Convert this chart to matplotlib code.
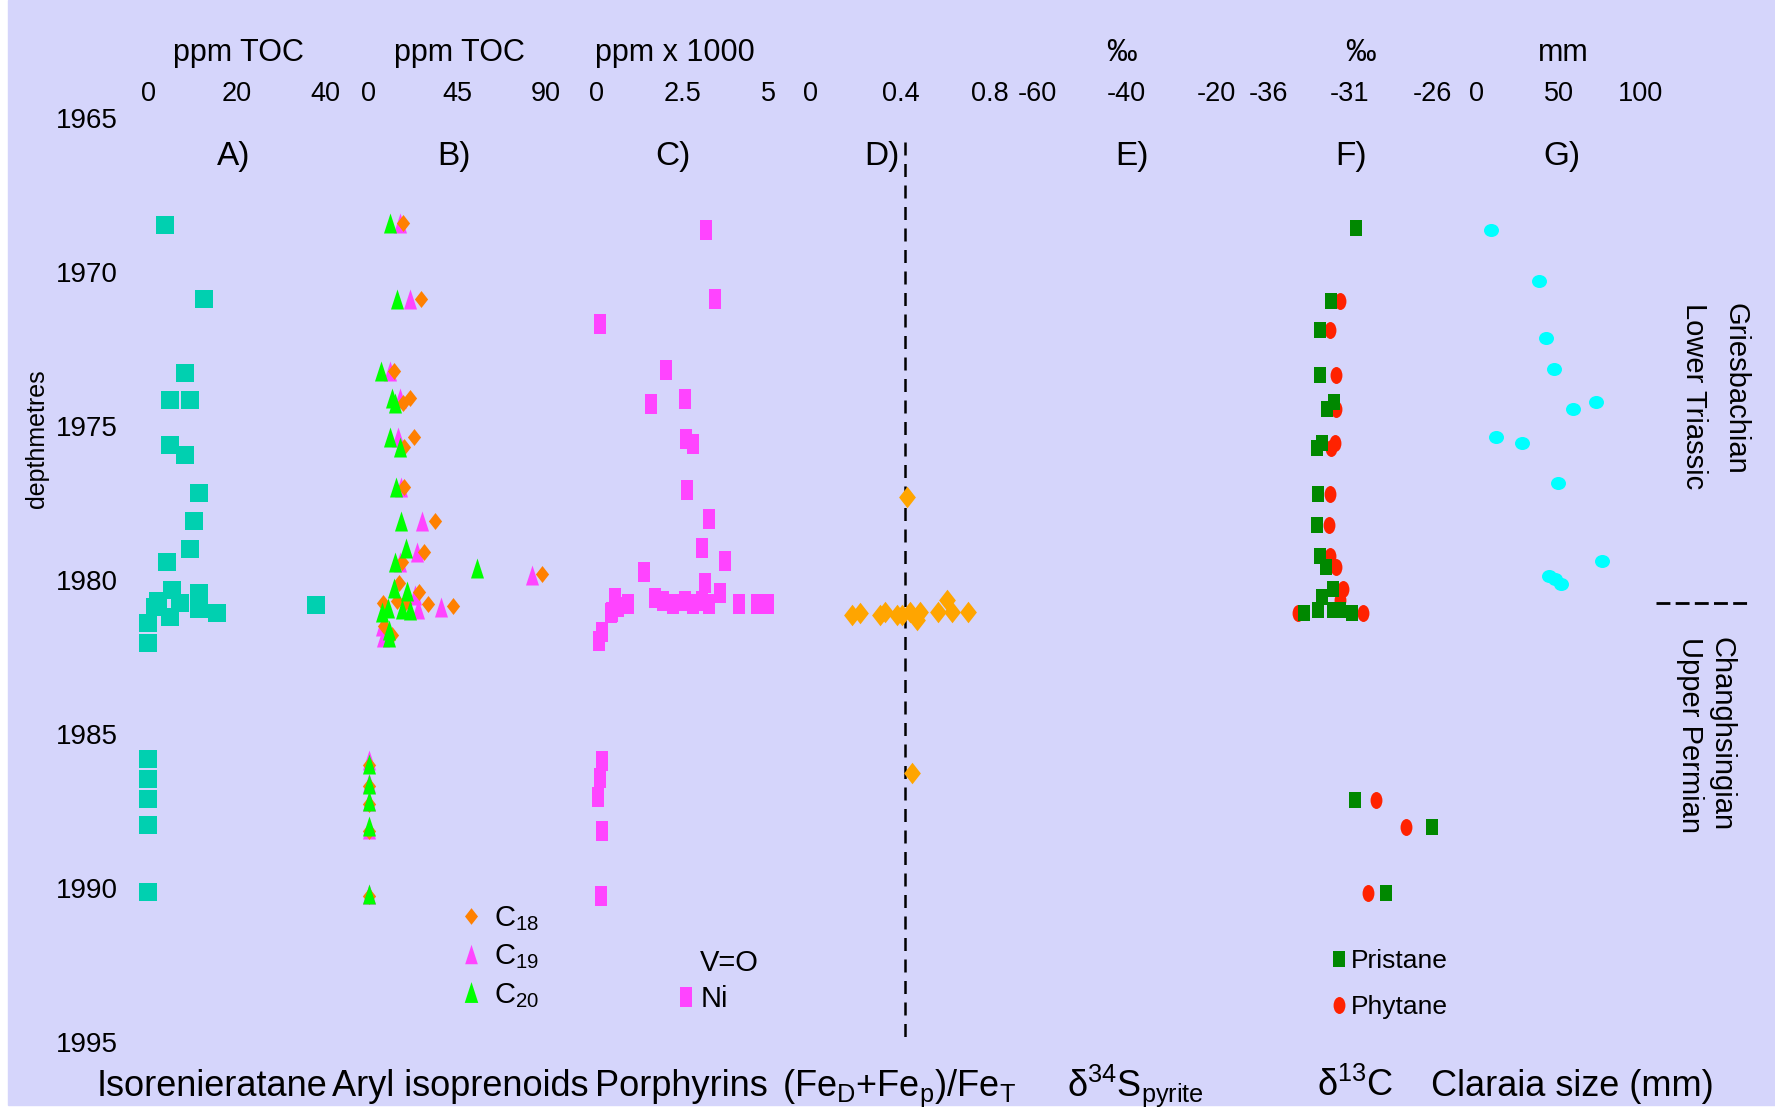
import numpy as np
import matplotlib.pyplot as plt
from matplotlib.lines import Line2D
from matplotlib.path import Path
from matplotlib.patches import Rectangle
from matplotlib.transforms import Affine2D

plt.rcParams['font.family'] = ['Liberation Sans', 'DejaVu Sans']
plt.rcParams['mathtext.fontset'] = 'custom'
plt.rcParams['mathtext.rm'] = 'Liberation Sans'
plt.rcParams['mathtext.it'] = 'Liberation Sans:italic'
plt.rcParams['axes.unicode_minus'] = False

# ---- data (depth in metres, value on each panel's own scale) ----
DEPTH_TICKS = [1965, 1970, 1975, 1980, 1985, 1990, 1995]

# A) Isorenieratane, ppm TOC
ISO_DEPTH = [1968.5, 1970.9, 1973.3, 1974.17, 1974.17, 1975.63, 1975.96, 1977.2, 1978.1, 1979.0,
             1979.43, 1980.35, 1980.45, 1980.7, 1980.75, 1980.83, 1980.9, 1980.97, 1981.07, 1981.2,
             1981.4, 1982.06, 1985.82, 1986.47, 1987.12, 1987.97, 1990.16]
ISO_VALUE = [3.8, 12.7, 8.4, 5.0, 9.5, 5.0, 8.4, 11.5, 10.4, 9.5,
             4.3, 5.4, 11.5, 2.3, 7.2, 38.0, 1.6, 11.5, 15.6, 5.0,
             0.0, 0.0, 0.0, 0.0, 0.0, 0.0, 0.0]

# B) Aryl isoprenoids, ppm TOC
C18_DEPTH = [1968.43, 1970.89, 1973.22, 1974.1, 1974.25, 1975.36, 1975.68, 1977.0, 1978.1, 1979.09,
             1979.42, 1979.82, 1980.12, 1980.39, 1980.71, 1980.77, 1980.77, 1980.79, 1980.85, 1981.5,
             1981.8, 1986.02, 1986.7, 1987.28, 1988.18, 1990.27]
C18_VALUE = [17.5, 26.6, 13.1, 21.2, 17.7, 23.3, 18.2, 18.4, 33.9, 28.2,
             17.0, 88.1, 15.8, 25.8, 14.5, 7.7, 18.7, 30.5, 42.8, 8.0,
             12.0, 0.3, 0.3, 0.3, 0.3, 0.3]
C19_DEPTH = [1968.43, 1970.89, 1973.22, 1974.1, 1975.36, 1977.0, 1978.1, 1979.09, 1979.42, 1979.85,
             1980.5, 1980.9, 1980.96, 1981.5, 1981.85, 1985.86, 1986.6, 1987.2, 1988.1, 1990.2]
C19_VALUE = [16.2, 21.2, 11.1, 16.2, 15.2, 16.7, 27.5, 24.9, 16.0, 82.8,
             23.8, 36.9, 25.4, 7.0, 7.4, 0.3, 0.3, 0.3, 0.3, 0.3]
C20_DEPTH = [1968.43, 1970.89, 1973.22, 1974.1, 1974.25, 1975.36, 1975.68, 1977.0, 1978.1, 1978.98,
             1979.42, 1979.63, 1980.28, 1980.36, 1980.93, 1980.96, 1980.98, 1981.04, 1981.63, 1981.85,
             1986.0, 1986.65, 1987.2, 1988.0, 1990.2]
C20_VALUE = [11.1, 14.7, 6.6, 12.1, 13.7, 11.1, 16.0, 14.2, 16.5, 19.2,
             13.7, 54.9, 13.3, 19.9, 10.3, 17.0, 21.2, 6.9, 10.8, 10.8,
             0.3, 0.3, 0.3, 0.3, 0.3]

# C) Porphyrins (Ni), ppm x 1000
NI_DEPTH = [1968.66, 1970.9, 1971.7, 1973.19, 1974.14, 1974.3, 1975.44, 1975.6, 1977.09, 1978.03,
            1978.98, 1979.4, 1979.76, 1980.1, 1980.45, 1980.6, 1980.6, 1980.71, 1980.71, 1980.71,
            1980.79, 1980.79, 1980.79, 1980.79, 1980.79, 1980.79, 1980.79, 1980.88, 1981.04, 1981.09,
            1981.71, 1981.99, 1985.9, 1986.45, 1987.05, 1988.15, 1990.26]
NI_VALUE = [3.20, 3.45, 0.11, 2.03, 2.59, 1.60, 2.61, 2.81, 2.65, 3.29,
            3.08, 3.76, 1.39, 3.17, 3.61, 0.54, 1.71, 1.95, 2.58, 3.07,
            0.91, 2.24, 2.82, 3.27, 4.16, 4.67, 5.01, 0.64, 0.44, 0.41,
            0.17, 0.08, 0.15, 0.10, 0.05, 0.15, 0.12]

# D) (FeD+Fep)/FeT
FE_DEPTH = [1977.32, 1981.15, 1981.09, 1981.15, 1981.04, 1981.15, 1981.15, 1981.04, 1981.31,
            1981.04, 1981.04, 1980.66, 1981.04, 1981.04, 1986.28]
FE_VALUE = [0.43, 0.182, 0.219, 0.308, 0.330, 0.383, 0.405, 0.442, 0.472,
            0.487, 0.568, 0.606, 0.628, 0.702, 0.453]
FE_THRESHOLD = 0.42

# F) d13C of pristane / phytane, permil
PRI_DEPTH = [1968.59, 1970.94, 1971.9, 1973.36, 1974.22, 1974.47, 1975.57, 1975.73, 1977.23, 1978.22,
             1979.22, 1979.58, 1980.31, 1980.55, 1980.98, 1981.07, 1980.98, 1980.98, 1981.07,
             1987.15, 1988.05, 1990.17]
PRI_VALUE = [-30.63, -32.16, -32.83, -32.83, -31.96, -32.38, -32.7, -33.03, -32.93, -33.03,
             -32.85, -32.48, -32.06, -32.7, -32.93, -33.83, -32.06, -31.6, -30.85,
             -30.7, -26.0, -28.8]
PHY_DEPTH = [1970.94, 1971.9, 1973.36, 1974.47, 1975.57, 1975.73, 1977.23, 1978.22, 1979.22,
             1979.58, 1980.31, 1980.66, 1981.07, 1981.07, 1987.15, 1988.05, 1990.17]
PHY_VALUE = [-31.6, -32.2, -31.86, -31.84, -31.9, -32.15, -32.2, -32.26, -32.2,
             -31.84, -31.45, -31.6, -34.15, -30.23, -29.4, -27.6, -29.9]

# G) Claraia size, mm
CLA_DEPTH = [1968.65, 1970.29, 1972.17, 1973.16, 1974.23, 1974.47, 1975.37, 1975.55, 1976.85,
             1979.39, 1979.88, 1979.99, 1980.15]
CLA_VALUE = [8.3, 37.6, 41.9, 47.0, 72.8, 58.3, 11.8, 27.4, 49.6,
             76.0, 44.0, 47.6, 51.2]

BOUNDARY_DEPTH = 1980.77

# ---- styling ----
BG = '#D5D5FB'
W, H = 1775, 1115
AX_TOP, AX_BOT = 117.7, 1041.5   # pixel rows of 1965 and 1995

tri_tall = [(0, 1), (-0.65, -1), (0.65, -1)]
diamond = [(0, 1), (0.78, 0), (0, -1), (-0.78, 0)]
rect_tall = [(-0.68, -1), (0.68, -1), (0.68, 1), (-0.68, 1)]
rect_f = [(-0.76, -1), (0.76, -1), (0.76, 1), (-0.76, 1)]
ellipse_tall = Path.unit_circle().transformed(Affine2D().scale(0.7, 1.0))
ellipse_wide = Path.unit_circle().transformed(Affine2D().scale(1.0, 0.87))

fig = plt.figure(figsize=(W / 100, H / 100), dpi=100, facecolor='white')
fig.patches.append(Rectangle((8 / W, 10 / H), 1 - 8 / W, 1 - 10 / H,
                             transform=fig.transFigure, color=BG, zorder=-10))


def panel(x0, x1, xlim, ticks, labels):
    ax = fig.add_axes([x0 / W, 1 - AX_BOT / H, (x1 - x0) / W, (AX_BOT - AX_TOP) / H])
    ax.patch.set_visible(False)
    for s in ax.spines.values():
        s.set_visible(False)
    ax.set_xlim(xlim)
    ax.set_ylim(1995, 1965)
    ax.xaxis.tick_top()
    ax.set_xticks(ticks)
    ax.set_xticklabels(labels)
    ax.tick_params(axis='x', length=0, pad=8, labelsize=19.5)
    ax.set_yticks([])
    return ax


def pts(ax, x, y, marker, color, ms):
    ax.plot(x, y, ls='none', marker=marker, color=color, ms=ms, mew=0, clip_on=False)


def units(ax, text, xf):
    ax.text(xf, 1.070, text, transform=ax.transAxes, ha='center', va='center', fontsize=22)


def letter(ax, text, xf):
    ax.text(xf, 0.9585, text, transform=ax.transAxes, ha='center', va='center', fontsize=24)


# A
ax_a = panel(148, 325, (0, 40), [0, 20, 40], ['0', '20', '40'])
ax_a.set_yticks(DEPTH_TICKS)
ax_a.tick_params(axis='y', length=0, pad=21.6, labelsize=20)
pts(ax_a, ISO_VALUE, ISO_DEPTH, 's', '#00D0B0', 13)
units(ax_a, 'ppm TOC', 0.513)
letter(ax_a, 'A)', 0.486)

# B
ax_b = panel(368, 546, (0, 90), [0, 45, 90], ['0', '45', '90'])
pts(ax_b, C19_VALUE, C19_DEPTH, tri_tall, '#FF44FF', 14.4)
pts(ax_b, C18_VALUE, C18_DEPTH, diamond, '#FF8000', 12.2)
pts(ax_b, C20_VALUE, C20_DEPTH, tri_tall, '#00FF00', 14.4)
units(ax_b, 'ppm TOC', 0.515)
letter(ax_b, 'B)', 0.483)
hb = [Line2D([], [], ls='none', marker=diamond, color='#FF8000', ms=12, mew=0),
      Line2D([], [], ls='none', marker=tri_tall, color='#FF44FF', ms=14, mew=0),
      Line2D([], [], ls='none', marker=tri_tall, color='#00FF00', ms=15, mew=0)]
ax_b.legend(hb, [r'C$_{\mathrm{18}}$', r'C$_{\mathrm{19}}$', r'C$_{\mathrm{20}}$'],
            loc='upper left', bbox_to_anchor=(0.497, 0.149), frameon=False, fontsize=21,
            borderpad=0, borderaxespad=0, handlelength=1.0, handletextpad=0.3, labelspacing=0.33)

# C
ax_c = panel(596.5, 768, (0, 5), [0, 2.5, 5], ['0', '2.5', '5'])
pts(ax_c, NI_VALUE, NI_DEPTH, rect_tall, '#FF44FF', 13.7)
units(ax_c, 'ppm x 1000', 0.456)
letter(ax_c, 'C)', 0.443)
hc = [Line2D([], [], ls='none'),
      Line2D([], [], ls='none', marker=rect_tall, color='#FF44FF', ms=13.7, mew=0)]
ax_c.legend(hc, ['V=O', 'Ni'], loc='upper left', bbox_to_anchor=(0.469, 0.1006), frameon=False,
            fontsize=21, borderpad=0, borderaxespad=0, handlelength=0.6, handletextpad=0.2,
            labelspacing=0.3)

# D
ax_d = panel(811, 990, (0, 0.8), [0, 0.4, 0.8], ['0', '0.4', '0.8'])
ax_d.vlines(FE_THRESHOLD, 1965.8, 1995, colors='black', linestyles=(0, (5.2, 3.4)), lw=1.8)
pts(ax_d, FE_VALUE, FE_DEPTH, diamond, '#FFA500', 15.5)
letter(ax_d, 'D)', 0.397)

# E
ax_e = panel(1037, 1216, (-60, -20), [-60, -40, -20], ['-60', '-40', '-20'])
units(ax_e, '‰', 0.472)
letter(ax_e, 'E)', 0.531)

# F
ax_f = panel(1268, 1432, (-36, -26), [-36, -31, -26], ['-36', '-31', '-26'])
pts(ax_f, PHY_VALUE, PHY_DEPTH, ellipse_tall, '#FF2200', 12.2)
pts(ax_f, PRI_VALUE, PRI_DEPTH, rect_f, '#008800', 12.2)
units(ax_f, '‰', 0.561)
letter(ax_f, 'F)', 0.504)
hf = [Line2D([], [], ls='none', marker=rect_f, color='#008800', ms=12.2, mew=0),
      Line2D([], [], ls='none', marker=ellipse_tall, color='#FF2200', ms=12.2, mew=0)]
ax_f.legend(hf, ['Pristane', 'Phytane'], loc='upper left', bbox_to_anchor=(0.382, 0.0997),
            frameon=False, fontsize=19, borderpad=0, borderaxespad=0, handlelength=0.6,
            handletextpad=0.15, labelspacing=0.83)

# G
ax_g = panel(1477, 1641, (0, 100), [0, 50, 100], ['0', '50', '100'])
pts(ax_g, CLA_VALUE, CLA_DEPTH, ellipse_wide, '#00FFFF', 10.8)
units(ax_g, 'mm', 0.524)
letter(ax_g, 'G)', 0.518)

# stage column on the right
ax_s = fig.add_axes([1650 / W, 1 - AX_BOT / H, 110 / W, (AX_BOT - AX_TOP) / H])
ax_s.axis('off')
ax_s.set_ylim(1995, 1965)
ax_s.axhline(BOUNDARY_DEPTH, xmin=0.055, xmax=0.9, color='black', lw=2, dashes=(5, 1.9))
fig.text(0.966, 1 - 303 / H, 'Griesbachian\nLower Triassic', rotation=270, ha='center', va='top',
         multialignment='left', fontsize=21, linespacing=1.58)
fig.text(0.961, 1 - 637 / H, 'Changhsingian\nUpper Permian', rotation=270, ha='center', va='top',
         multialignment='left', fontsize=21, linespacing=1.125)

fig.text(37 / W, 1 - 439 / H, 'depthmetres', rotation=90, ha='center', va='center', fontsize=18)

# panel titles along the bottom
titles = [(212, 'Isorenieratane'), (460.7, 'Aryl isoprenoids'), (681.5, 'Porphyrins'),
          (898.8, r'(Fe$_\mathrm{D}$+Fe$_\mathrm{p}$)/Fe$_\mathrm{T}$'),
          (1135.4, r'δ$^{\mathrm{34}}$S$_{\mathrm{pyrite}}$'),
          (1355, r'δ$^{\mathrm{13}}$C'), (1572.4, 'Claraia size (mm)')]
for x, t in titles:
    fig.text(x / W, 1 - 1096 / H, t, ha='center', va='baseline', fontsize=26)

fig.savefig('out.png', dpi=100)
